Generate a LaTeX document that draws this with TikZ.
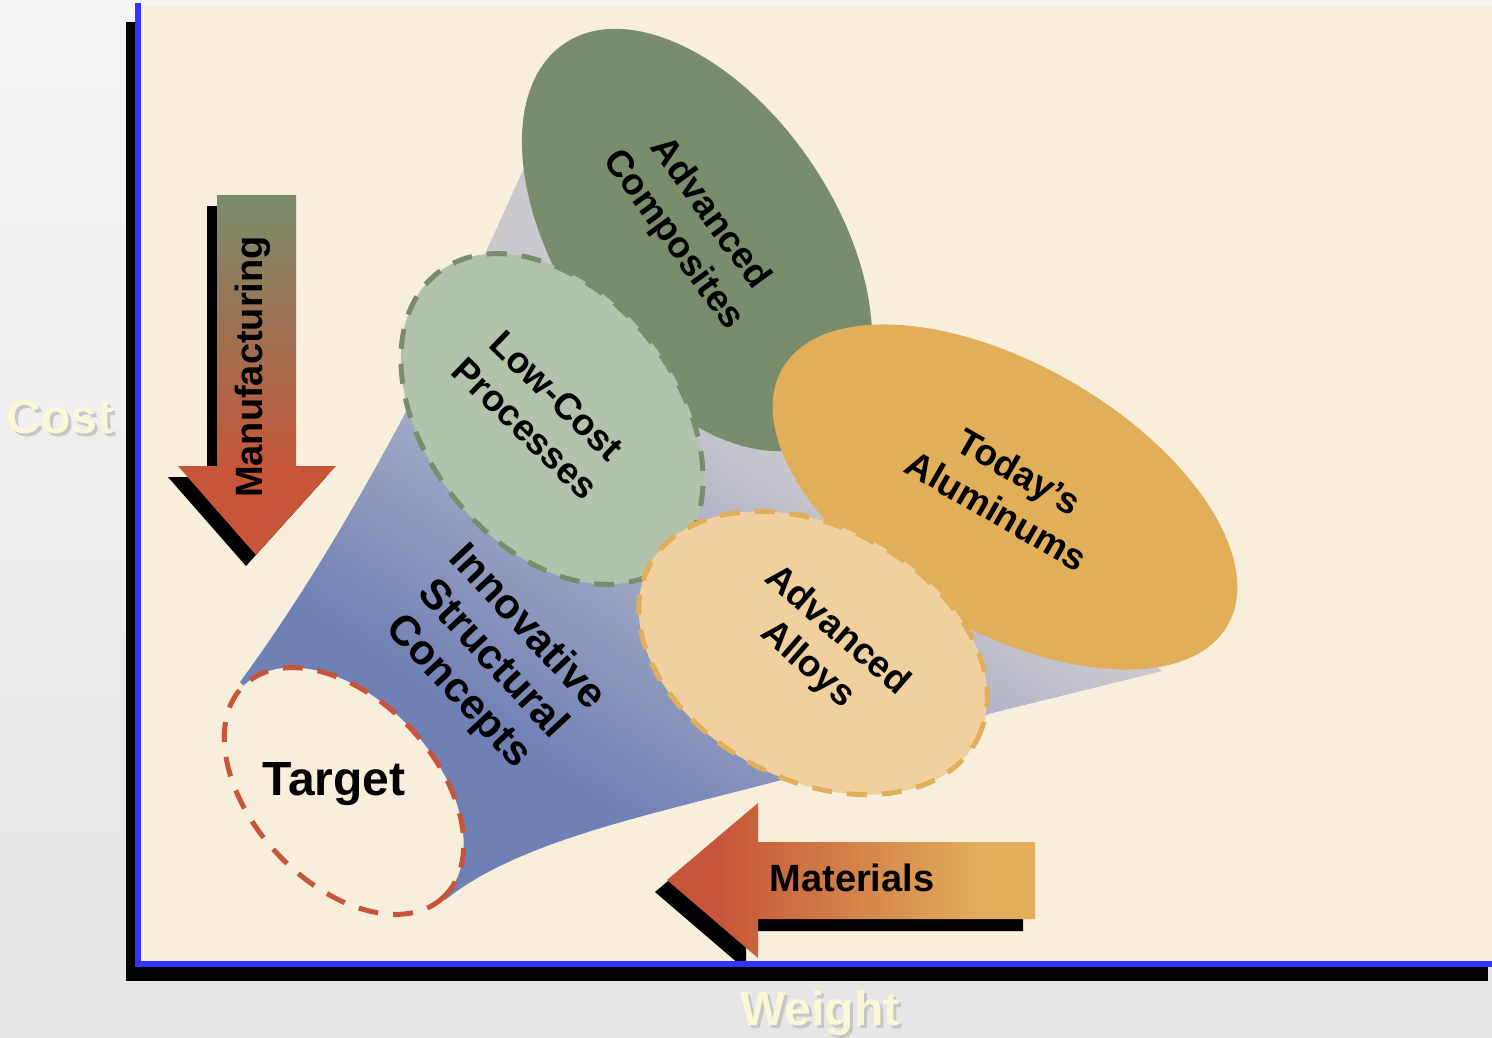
\documentclass[tikz,border=0pt]{standalone}
\usepackage{fontspec}
\setmainfont{Liberation Sans}
\usetikzlibrary{shapes.geometric}
\definecolor{panel}{HTML}{F7EEDC}
\definecolor{axisblue}{HTML}{3333FF}
\definecolor{compgreen}{HTML}{798C6B}
\definecolor{lowgreen}{HTML}{B3C2AA}
\definecolor{alugold}{HTML}{E1AF5A}
\definecolor{alloytan}{HTML}{EFD09E}
\definecolor{arrowred}{HTML}{C6553A}
\definecolor{fblue}{HTML}{6F80B5}
\definecolor{fgrey}{HTML}{CBC9CE}
\definecolor{ivory}{HTML}{FAF7D8}
\pgfdeclareverticalshading{funnelgrad}{100bp}{color(0bp)=(fblue); color(32bp)=(fblue); color(56bp)=(fgrey); color(100bp)=(fgrey)}
\pgfdeclareverticalshading{mfggrad}{100bp}{color(0bp)=(arrowred); color(37bp)=(arrowred); color(75bp)=(compgreen); color(100bp)=(compgreen)}
\pgfdeclarehorizontalshading{matgrad}{100bp}{color(0bp)=(arrowred); color(32bp)=(arrowred); color(68bp)=(alugold); color(100bp)=(alugold)}

\begin{document}
\begin{tikzpicture}[x=1pt,y=-1pt,
    blob/.style 2 args={ellipse,inner sep=0pt,minimum width=#1,minimum height=#2},
    dashline/.style={line width=5pt,dash pattern=on 20pt off 15pt},
    lbl/.style={font=\bfseries\fontsize{37}{45}\selectfont,align=center,inner sep=0pt},
    arrlbl/.style={font=\bfseries\fontsize{38}{40}\selectfont,anchor=base,inner sep=0pt},
    axlbl/.style={font=\bfseries\fontsize{48}{50}\selectfont,anchor=base,inner sep=0pt}]
    \useasboundingbox (0,0) rectangle (1492,1037);
    \shade[top color=white!96!black,bottom color=white!90!black] (0,0) rectangle (1492,1037);
    \fill[panel] (141,6) rectangle (1492,961);
    % funnel behind the blobs
    \shade[shading=funnelgrad,shading angle=-33] (240,682) .. controls (330,560) and (430,380) .. (523,170)
        -- (600,120) -- (850,330) -- (1100,620) -- (1162,671) -- (992,713) -- (793,777)
        .. controls (650,815) and (520,840) .. (445,900) -- cycle;
    \node[blob={474pt}{276pt},fill=compgreen,rotate=-56] (comp) at (697,240) {};
    \node[blob={371pt}{251pt},fill=lowgreen,draw=compgreen,dashline,rotate=-52] (lowcost) at (552,419) {};
    \node[blob={514pt}{266pt},fill=alugold,rotate=-30] (alu) at (1005,497) {};
    \node[blob={371pt}{253pt},fill=alloytan,draw=alugold,dashline,rotate=-28] (alloy) at (813,653) {};
    \node[blob={291pt}{183pt},fill=panel,draw=arrowred,dashline,rotate=-47] (target) at (344,791) {};
    \node[lbl,rotate=-54] (complbl) at (691,227) {Advanced\\Composites};
    \node[lbl,rotate=-44] (lowlbl) at (541,412) {Low-Cost\\Processes};
    \node[lbl,rotate=-30] (alulbl) at (1008,491) {Today's\\Aluminums};
    \node[lbl,rotate=-41] (alloylbl) at (822,648) {Advanced\\Alloys};
    \node[lbl,font=\bfseries\fontsize{42}{47}\selectfont,rotate=-47] (isclbl) at (492,660) {Innovative\\Structural\\Concepts};
    \node[axlbl] (tgtlbl) at (334,795) {Target};
    % manufacturing arrow
    \fill[black,shift={(-10,11)}] (217,195) -- (296,195) -- (296,466) -- (336,466) -- (256,555) -- (178,466) -- (217,466) -- cycle;
    \shade[shading=mfggrad] (217,195) -- (296,195) -- (296,466) -- (336,466) -- (256,555) -- (178,466) -- (217,466) -- cycle;
    % materials arrow
    \fill[black,shift={(-12,12)}] (1035,842) -- (758,842) -- (758,803) -- (667,880) -- (758,958) -- (758,919) -- (1035,919) -- cycle;
    \shade[shading=matgrad] (1035,842) -- (758,842) -- (758,803) -- (667,880) -- (758,958) -- (758,919) -- (1035,919) -- cycle;
    \node[arrlbl,rotate=90] (mfg) at (262,367) {Manufacturing};
    \node[arrlbl] (mat) at (852,891) {Materials};
    % axes
    \fill[black] (126,22) rectangle (135,981);
    \fill[black] (126,967) rectangle (1488,981);
    \fill[axisblue] (135,3) rectangle (141,967);
    \fill[axisblue] (135,961) rectangle (1492,967);
    \node[axlbl,text=black!22] (costsh) at (63,436) {Cost};
    \node[axlbl,text=ivory] (cost) at (60,433) {Cost};
    \node[axlbl,text=black!22] (weightsh) at (823,1028) {Weight};
    \node[axlbl,text=ivory] (weight) at (820,1025) {Weight};
\end{tikzpicture}
\end{document}
